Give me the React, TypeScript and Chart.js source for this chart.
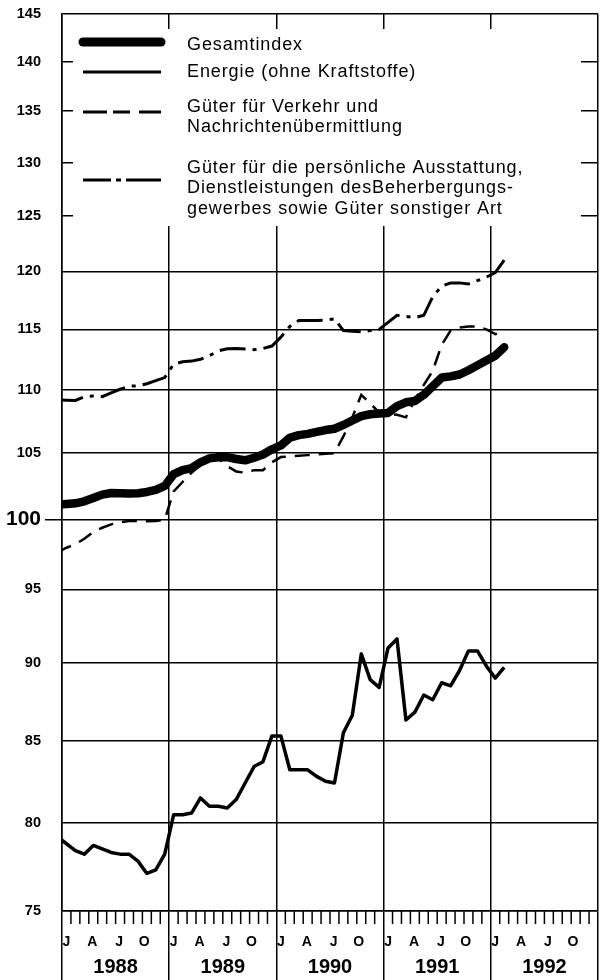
import React, { useEffect, useRef } from "react";
import { Chart, registerables } from "chart.js";

Chart.register(...registerables);

// Monthly values, Dec 1987 .. Feb 1992 (index 0 = Dec 1987)
const gesamtindex = [101.1, 101.15, 101.2, 101.35, 101.6, 101.85, 101.97, 101.95, 101.93, 101.95, 102.05, 102.2, 102.5, 103.4, 103.7, 103.85, 104.3, 104.6, 104.68, 104.7, 104.55, 104.45, 104.65, 104.9, 105.3, 105.6, 106.2, 106.4, 106.5, 106.65, 106.8, 106.9, 107.2, 107.55, 107.9, 108.05, 108.1, 108.15, 108.7, 109.0, 109.1, 109.6, 110.3, 111.0, 111.1, 111.25, 111.6, 112.0, 112.4, 112.8, 113.5];
const energie = [79.2, 78.8, 78.4, 78.2, 78.7, 78.5, 78.3, 78.2, 78.2, 77.8, 77.1, 77.3, 78.2, 80.5, 80.5, 80.6, 81.5, 81.0, 81.0, 80.9, 81.4, 82.4, 83.4, 83.7, 85.3, 85.3, 83.2, 83.2, 83.2, 82.8, 82.5, 82.4, 85.5, 86.6, 90.6, 88.9, 88.4, 91.0, 91.6, 86.3, 86.8, 87.9, 87.6, 88.7, 88.5, 89.5, 90.8, 90.8, 89.8, 89.0, 89.7];
const verkehr = [97.6, 97.95, 98.2, 98.6, 99.1, 99.4, 99.65, 99.8, 99.9, 99.9, 99.87, 99.9, 100.0, 102.1, 102.8, 103.5, 104.1, 104.6, 104.6, 104.0, 103.6, 103.5, 103.7, 103.7, 104.3, 104.7, 104.75, 104.8, 104.85, 104.9, 104.95, 105.0, 106.3, 107.8, 109.6, 108.9, 108.2, 108.1, 108.0, 107.8, 109.2, 110.4, 111.55, 113.7, 114.9, 115.15, 115.25, 115.25, 115.0, 114.6, 114.9];
const sonstige = [109.2, 109.17, 109.15, 109.45, 109.5, 109.45, 109.75, 110.05, 110.3, 110.33, 110.5, 110.75, 111.0, 112.1, 112.3, 112.35, 112.5, 112.8, 113.2, 113.37, 113.4, 113.35, 113.3, 113.4, 113.6, 114.35, 115.25, 115.75, 115.75, 115.75, 115.8, 115.9, 114.9, 114.85, 114.8, 114.9, 115.0, 115.6, 116.2, 116.1, 116.0, 116.2, 117.8, 118.7, 119.0, 119.0, 118.9, 119.2, 119.5, 119.9, 121.0];

const yTickValues = [75, 80, 85, 90, 95, 100, 105, 110, 115, 120, 125, 130, 135, 140, 145];
const yearLabels = ["1988", "1989", "1990", "1991", "1992"];
const monthLetters = ["J", "A", "J", "O"];
const monthLetterPositions = [0.5, 3.4, 6.4, 9.2];

const legendGesamt = ["Gesamtindex"];
const legendEnergie = ["Energie (ohne Kraftstoffe)"];
const legendVerkehr = ["Güter für Verkehr und", "Nachrichtenübermittlung"];
const legendSonstige = [
  "Güter für die persönliche Ausstattung,",
  "Dienstleistungen desBeherbergungs-",
  "gewerbes sowie Güter sonstiger Art",
];

const FONT = "'Liberation Sans', Arial, Helvetica, sans-serif";
const toPoints = (arr: number[]) => arr.map((v, i) => ({ x: i - 0.5, y: v }));

const DASH = [15, 9];
const DASHDOT = [26, 7, 4, 7];

const decorPlugin = {
  id: "decor",
  beforeDatasetsDraw(chart: any) {
    const { ctx, chartArea: a, scales } = chart;
    const xs = scales.x;
    ctx.save();
    // legend panel (interrupts grid lines)
    ctx.fillStyle = "#fff";
    ctx.fillRect(a.left + 11, a.top + 15, 508, 197);

    // legend samples
    ctx.strokeStyle = "#000";
    const sx0 = a.left + 21;
    const sx1 = a.left + 99;
    const drawSample = (y: number, w: number, dash: number[], cap: CanvasLineCap) => {
      ctx.beginPath();
      ctx.lineWidth = w;
      ctx.lineCap = cap;
      ctx.setLineDash(dash);
      ctx.moveTo(sx0, y);
      ctx.lineTo(sx1, y);
      ctx.stroke();
    };
    drawSample(a.top + 28, 9, [], "round");
    drawSample(a.top + 58, 3, [], "butt");
    drawSample(a.top + 98, 3, [24, 6, 17, 9, 23], "butt");
    drawSample(a.top + 166, 3, [28, 5, 5, 5, 40], "butt");
    ctx.setLineDash([]);

    // legend text
    ctx.fillStyle = "#000";
    ctx.font = `18px ${FONT}`;
    (ctx as any).letterSpacing = "0.9px";
    ctx.textAlign = "left";
    ctx.textBaseline = "middle";
    const tx = a.left + 125;
    const texts: [string[], number][] = [
      [legendGesamt, a.top + 31],
      [legendEnergie, a.top + 58],
      [legendVerkehr, a.top + 93],
      [legendSonstige, a.top + 154],
    ];
    texts.forEach(([lines, y0]) => {
      lines.forEach((t, k) => ctx.fillText(t, tx, y0 + k * 20.5));
    });
    (ctx as any).letterSpacing = "0px";

    // month ticks below the plot
    ctx.lineWidth = 1.5;
    ctx.lineCap = "butt";
    for (let m = 1; m < 60; m++) {
      if (m % 12 === 0) continue;
      const px = xs.getPixelForValue(m);
      ctx.beginPath();
      ctx.moveTo(px, a.bottom);
      ctx.lineTo(px, a.bottom + 13);
      ctx.stroke();
    }
    // month letters and years
    ctx.textAlign = "center";
    yearLabels.forEach((yl, yi) => {
      ctx.font = `bold 14px ${FONT}`;
      monthLetterPositions.forEach((off, k) => {
        const px = xs.getPixelForValue(yi * 12 + off);
        ctx.fillText(monthLetters[k], px, a.bottom + 31);
      });
      ctx.font = `bold 20px ${FONT}`;
      ctx.fillText(yl, xs.getPixelForValue(yi * 12 + 6), a.bottom + 56);
    });
    ctx.restore();
  },
};

export default function App() {
  const ref = useRef<HTMLCanvasElement | null>(null);
  useEffect(() => {
    if (!ref.current) return;
    const chart = new Chart(ref.current, {
      type: "line",
      data: {
        datasets: [
          {
            label: "Gesamtindex",
            data: toPoints(gesamtindex),
            borderColor: "#000",
            borderWidth: 8.5,
            borderCapStyle: "round",
            borderJoinStyle: "round",
            pointRadius: 0,
            clip: 0,
          },
          {
            label: "Güter für Verkehr und Nachrichtenübermittlung",
            data: toPoints(verkehr),
            borderColor: "#000",
            borderWidth: 2.5,
            borderDash: DASH,
            pointRadius: 0,
            clip: 0,
          },
          {
            label: "Güter für die persönliche Ausstattung",
            data: toPoints(sonstige),
            borderColor: "#000",
            borderWidth: 3,
            borderDash: DASHDOT,
            pointRadius: 0,
            clip: 0,
          },
          {
            label: "Energie (ohne Kraftstoffe)",
            data: toPoints(energie),
            borderColor: "#000",
            borderWidth: 3.5,
            borderJoinStyle: "round",
            pointRadius: 0,
            clip: 0,
          },
        ],
      },
      options: {
        responsive: false,
        animation: false,
        events: [],
        layout: { padding: { top: 14, right: 2, left: 0, bottom: 0 }, autoPadding: false },
        plugins: { legend: { display: false }, tooltip: { enabled: false } },
        scales: {
          x: {
            type: "linear",
            min: 0,
            max: 60,
            afterBuildTicks: (s: any) => {
              s.ticks = [0, 12, 24, 36, 48, 60].map((v) => ({ value: v }));
            },
            afterFit: (s: any) => {
              s.height = 69;
            },
            ticks: { display: false },
            grid: { color: "#000", lineWidth: 1.5, tickLength: 69, tickColor: "#000", tickWidth: 1.5 },
            border: { display: true, color: "#000", width: 1.5 },
          },
          y: {
            type: "logarithmic",
            min: 75,
            max: 145,
            afterBuildTicks: (s: any) => {
              s.ticks = yTickValues.map((v) => ({ value: v }));
            },
            afterFit: (s: any) => {
              s.width = 62;
            },
            ticks: {
              color: "#000",
              padding: 4,
              callback: (v: any) => String(v),
              font: (c: any) =>
                c.tick && c.tick.value === 100
                  ? { family: FONT, size: 21, weight: "bold" }
                  : { family: FONT, size: 14.5, weight: "bold" },
            },
            grid: {
              color: "#000",
              lineWidth: 1.5,
              tickLength: 17,
              tickWidth: 1.5,
              tickColor: (c: any) => (c.tick && c.tick.value === 100 ? "#000" : "rgba(0,0,0,0)"),
            },
            border: { display: true, color: "#000", width: 1.5 },
          },
        },
      },
      plugins: [decorPlugin],
    } as any);
    return () => chart.destroy();
  }, []);
  return (
    <div style={{ position: "absolute", left: 0, top: 0, width: 600, height: 980, background: "#fff" }}>
      <canvas ref={ref} width={600} height={980} style={{ display: "block" }} />
    </div>
  );
}
